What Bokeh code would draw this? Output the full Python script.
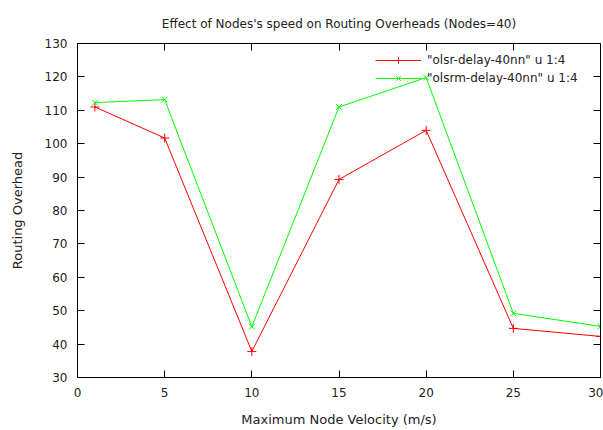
from bokeh.plotting import figure
from bokeh.models import Range1d, LinearAxis, FixedTicker, Legend, LegendItem, CustomJSTickFormatter
from bokeh.embed import file_html
from bokeh.resources import INLINE

velocity = [1, 5, 10, 15, 20, 25, 30]
olsr = [111.0, 101.7, 37.8, 89.3, 104.0, 44.7, 42.3]
olsrm = [112.3, 113.2, 45.2, 111.0, 119.8, 49.2, 45.3]
x_ticks = [0, 5, 10, 15, 20, 25, 30]
y_ticks = [30, 40, 50, 60, 70, 80, 90, 100, 110, 120, 130]

FONT = "DejaVu Sans"
TXT = "#222222"

p = figure(width=603, height=430, output_backend="svg", toolbar_location=None,
           x_range=Range1d(0, 30), y_range=Range1d(30, 130),
           title="Effect of Nodes's speed on Routing Overheads (Nodes=40)",
           min_border_left=77, min_border_right=3, min_border_top=43, min_border_bottom=53)
p.title.align = "center"
p.title.text_font = FONT
p.title.text_font_size = "12px"
p.title.text_font_style = "normal"
p.title.text_color = TXT
p.title.standoff = 26

p.grid.visible = False
p.outline_line_color = "black"
p.outline_line_width = 1

for ax in (p.xaxis[0], p.yaxis[0]):
    ax.major_tick_in = 7
    ax.major_tick_out = 0
    ax.minor_tick_line_color = None
    ax.major_label_text_font = FONT
    ax.major_label_text_font_size = "12px"
    ax.major_label_text_color = TXT
    ax.axis_label_text_font = FONT
    ax.axis_label_text_font_size = "13px"
    ax.axis_label_text_font_style = "normal"
    ax.axis_label_text_color = TXT
    ax.axis_line_color = "black"
    ax.major_tick_line_color = "black"

p.xaxis.ticker = FixedTicker(ticks=x_ticks)
p.yaxis.ticker = FixedTicker(ticks=y_ticks)
p.xaxis.axis_label = "Maximum Node Velocity (m/s)"
p.yaxis.axis_label = "Routing Overhead"
p.xaxis.major_label_standoff = 10
p.xaxis.axis_label_standoff = 12
p.yaxis.major_label_standoff = 10
p.yaxis.axis_label_standoff = 17

blank = CustomJSTickFormatter(code="return ''")
right = LinearAxis(ticker=FixedTicker(ticks=y_ticks), major_tick_in=7, major_tick_out=0,
                   minor_tick_line_color=None, formatter=blank, major_label_standoff=0)
top = LinearAxis(ticker=FixedTicker(ticks=x_ticks), major_tick_in=7, major_tick_out=0,
                 minor_tick_line_color=None, formatter=blank, major_label_standoff=0)
p.add_layout(right, "right")
p.add_layout(top, "above")

l1 = p.line(velocity, olsr, line_color="#ff0000", line_width=1)
m1 = p.scatter(velocity, olsr, marker="cross", size=9, line_color="#ff0000", line_width=1)
l2 = p.line(velocity, olsrm, line_color="#00ff00", line_width=1)
m2 = p.scatter(velocity, olsrm, marker="x", size=8, line_color="#00ff00", line_width=1)

legend = Legend(items=[
    LegendItem(label='"olsr-delay-40nn" u 1:4', renderers=[l1, m1]),
    LegendItem(label='"olsrm-delay-40nn" u 1:4', renderers=[l2, m2]),
], location=(298, 291))
legend.background_fill_alpha = 0
legend.border_line_color = None
legend.label_text_font = FONT
legend.label_text_font_size = "12px"
legend.label_text_color = TXT
legend.glyph_width = 46
legend.spacing = 2
legend.padding = 3
legend.margin = 0
legend.label_height = 16
legend.glyph_height = 16
legend.label_standoff = 6
p.add_layout(legend)

open("out.html", "w").write(file_html(p, INLINE))
